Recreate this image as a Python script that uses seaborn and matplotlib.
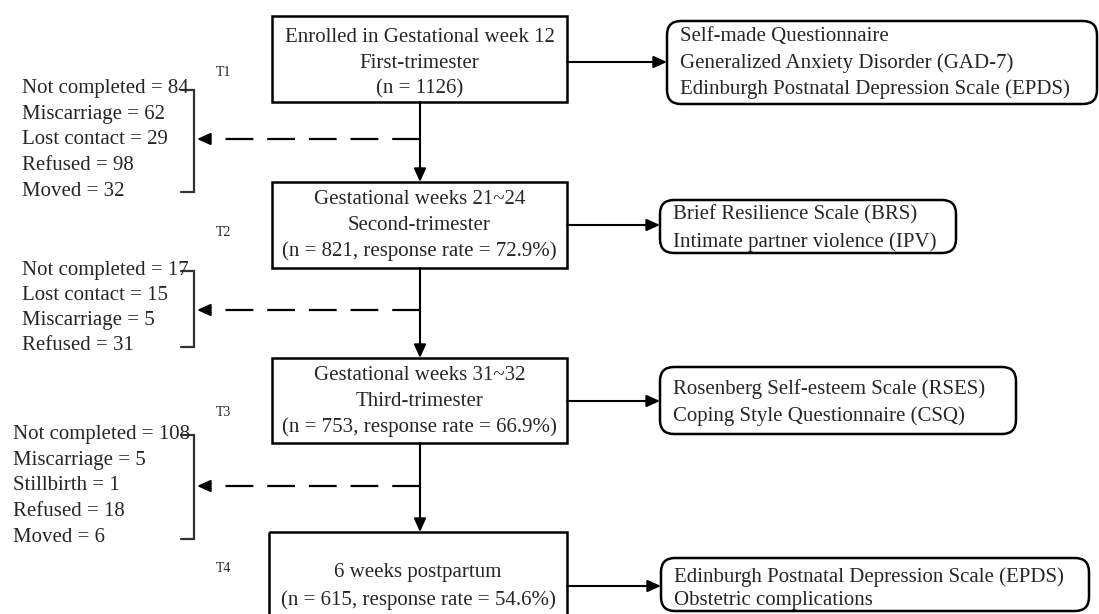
import matplotlib
matplotlib.use("Agg")
import matplotlib.pyplot as plt
import seaborn as sns
from matplotlib.patches import Rectangle, FancyBboxPatch

# text content of the flow chart
stage_lines = [
    ["Enrolled in Gestational week 12", "First-trimester", "(n = 1126)"],
    ["Gestational weeks 21~24", "Second-trimester", "(n = 821, response rate = 72.9%)"],
    ["Gestational weeks 31~32", "Third-trimester", "(n = 753, response rate = 66.9%)"],
    ["6 weeks postpartum", "(n = 615, response rate = 54.6%)"],
]
timepoints = ["T1", "T2", "T3", "T4"]
loss_lines = [
    ["Not completed = 84", "Miscarriage = 62", "Lost contact = 29", "Refused = 98", "Moved = 32"],
    ["Not completed = 17", "Lost contact = 15", "Miscarriage = 5", "Refused = 31"],
    ["Not completed = 108", "Miscarriage = 5", "Stillbirth = 1", "Refused = 18", "Moved = 6"],
]
measure_lines = [
    ["Self-made Questionnaire", "Generalized Anxiety Disorder (GAD-7)",
     "Edinburgh Postnatal Depression Scale (EPDS)"],
    ["Brief Resilience Scale (BRS)", "Intimate partner violence (IPV)"],
    ["Rosenberg Self-esteem Scale (RSES)", "Coping Style Questionnaire (CSQ)"],
    ["Edinburgh Postnatal Depression Scale (EPDS)", "Obstetric complications"],
]

# layout (pixel space, y downwards)
main_x = [(272, 567), (272, 567), (272, 567), (269, 567)]
main_y = [(16, 102), (182, 268), (358, 443), (532, 640)]
main_text_y = [[37, 63, 89], [199, 225, 251], [375, 401, 427], [573, 600]]
cx = 420
t_y = [73, 233, 412, 568]
loss_x = [22, 22, 13]
loss_text_y = [[89, 114.5, 140, 165.5, 191], [270, 295, 321, 346],
               [434, 460, 486, 512, 537]]
bracket_y = [(90, 192), (271, 347), (435, 539)]
dash_y = [139, 310, 486]
right_x = [(667, 1097), (660, 956), (660, 1016), (661, 1089)]
right_y = [(21, 104), (200, 253), (367, 434), (558, 611)]
right_text_y = [[37, 63, 89], [215, 242], [389, 416], [577, 600]]
arrow_y = [62, 225, 401, 586]

sns.set_theme(style="white")
plt.rcParams["font.family"] = ["Liberation Serif", "DejaVu Serif"]
plt.rcParams["lines.scale_dashes"] = False

fig = plt.figure(figsize=(10.99, 6.14), dpi=100)
ax = fig.add_axes([0, 0, 1, 1])
ax.set_xlim(0, 1099)
ax.set_ylim(614, 0)
ax.axis("off")

fs = 15
head = dict(arrowstyle="-|>,head_length=0.8,head_width=0.36", color="black",
            lw=1.5, shrinkA=0, shrinkB=0, mutation_scale=10)

for i, lines in enumerate(stage_lines):
    x0, x1 = main_x[i]
    y0, y1 = main_y[i]
    ax.add_patch(Rectangle((x0, y0), x1 - x0, y1 - y0, fill=False,
                           ec="black", lw=1.8))
    for txt, yy in zip(lines, main_text_y[i]):
        ax.text((x0 + x1) / 2, yy, txt, ha="center", va="center", fontsize=fs)
    ax.text(223, t_y[i], timepoints[i], ha="center", va="center", fontsize=10,
            family=["Liberation Serif", "DejaVu Sans"])

    # to measurement box
    rx0, rx1 = right_x[i]
    ry0, ry1 = right_y[i]
    ax.annotate("", xy=(rx0, arrow_y[i]), xytext=(x1, arrow_y[i]), arrowprops=head)
    ax.add_patch(FancyBboxPatch((rx0, ry0), rx1 - rx0, ry1 - ry0,
                                boxstyle="round,pad=0,rounding_size=14",
                                fill=False, ec="black", lw=1.8))
    for txt, yy in zip(measure_lines[i], right_text_y[i]):
        ax.text(rx0 + 13, yy, txt, ha="left", va="center", fontsize=fs)

    # down to next stage
    if i < 3:
        ax.annotate("", xy=(cx, main_y[i + 1][0]), xytext=(cx, y1), arrowprops=head)

for j, lines in enumerate(loss_lines):
    for txt, yy in zip(lines, loss_text_y[j]):
        ax.text(loss_x[j], yy, txt, ha="left", va="center", fontsize=fs)
    b0, b1 = bracket_y[j]
    ax.plot([181, 194, 194, 181], [b0, b0, b1, b1], color="#333333", lw=1.6,
            solid_joinstyle="miter")
    ax.plot([cx, 212], [dash_y[j], dash_y[j]], color="black", lw=1.6,
            dashes=(20, 10), dash_capstyle="butt")
    ax.annotate("", xy=(197, dash_y[j]), xytext=(209, dash_y[j]), arrowprops=head)

fig.savefig("out.png", dpi=100)
